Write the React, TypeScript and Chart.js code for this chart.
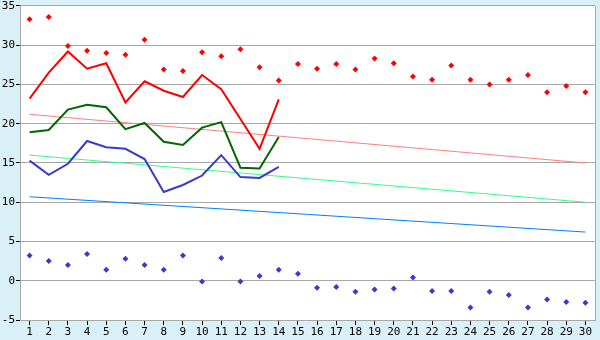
import React, { useEffect, useRef } from "react";
import { Chart, registerables } from "chart.js";

Chart.register(...registerables);

const days = Array.from({ length: 30 }, (_, i) => String(i + 1));

const redLine = [23.2, 26.5, 29.2, 27.0, 27.7, 22.7, 25.4, 24.2, 23.4, 26.2, 24.4, 20.6, 16.8, 23.1];
const greenLine = [18.9, 19.2, 21.8, 22.4, 22.1, 19.3, 20.1, 17.7, 17.3, 19.5, 20.2, 14.4, 14.3, 18.3];
const blueLine = [15.3, 13.5, 14.9, 17.8, 17.0, 16.8, 15.5, 11.3, 12.2, 13.4, 16.0, 13.2, 13.1, 14.5];

const maxPoints = [33.3, 33.6, 29.9, 29.3, 29.0, 28.8, 30.7, 26.9, 26.7, 29.1, 28.6, 29.5, 27.2, 25.5, 27.6,
  27.0, 27.6, 26.9, 28.3, 27.7, 26.0, 25.6, 27.4, 25.6, 25.0, 25.6, 26.2, 24.0, 24.8, 24.0];
const minPoints = [3.2, 2.5, 2.0, 3.4, 1.4, 2.8, 2.0, 1.4, 3.2, -0.1, 2.9, -0.1, 0.6, 1.4, 0.9,
  -0.9, -0.8, -1.4, -1.1, -1.0, 0.4, -1.3, -1.3, -3.4, -1.4, -1.8, -3.4, -2.4, -2.7, -2.8];

const redTrendEnds = [21.2, 15.0];
const greenTrendEnds = [16.0, 10.0];
const blueTrendEnds = [10.7, 6.2];

const yTicks = { min: -5, max: 35, step: 5 };

function trend(ends: number[]) {
  const arr: (number | null)[] = days.map(() => null);
  arr[0] = ends[0];
  arr[days.length - 1] = ends[1];
  return arr;
}

const bgPlugin = {
  id: "bg",
  beforeDraw(chart: any) {
    const { ctx, chartArea } = chart;
    ctx.save();
    ctx.fillStyle = "#d9f0f7";
    ctx.fillRect(0, 0, chart.width, chart.height);
    ctx.fillStyle = "#ffffff";
    ctx.fillRect(chartArea.left, chartArea.top, chartArea.right - chartArea.left, chartArea.bottom - chartArea.top);
    ctx.restore();
  },
  afterDraw(chart: any) {
    const { ctx, chartArea } = chart;
    ctx.save();
    ctx.strokeStyle = "#a8a8a8";
    ctx.lineWidth = 1;
    ctx.beginPath();
    ctx.moveTo(Math.round(chartArea.right) + 0.5, chartArea.top);
    ctx.lineTo(Math.round(chartArea.right) + 0.5, chartArea.bottom);
    ctx.stroke();
    ctx.restore();
  },
};

export default function App() {
  const ref = useRef<HTMLCanvasElement>(null);
  useEffect(() => {
    document.body.style.margin = "0";
    Chart.defaults.font.family = "'DejaVu Sans Mono', monospace";
    Chart.defaults.font.size = 11;
    Chart.defaults.color = "#000";
    const mk = (color: string, width: number, data: any, order: number, extra: any = {}) => ({
      data,
      borderColor: color,
      backgroundColor: color,
      borderWidth: width,
      pointRadius: 0,
      tension: 0,
      fill: false,
      order,
      ...extra,
    });
    const chart = new Chart(ref.current!, {
      type: "line",
      data: {
        labels: days,
        datasets: [
          mk("#ff0000", 2, redLine, 1),
          mk("#006600", 2, greenLine, 1),
          mk("#3a3acc", 2, blueLine, 1),
          mk("#ff0000", 0, maxPoints, 0, { showLine: false, pointRadius: 3, pointStyle: "rectRot", pointBorderWidth: 0 }),
          mk("#3a3acc", 0, minPoints, 0, { showLine: false, pointRadius: 3, pointStyle: "rectRot", pointBorderWidth: 0 }),
          mk("#ff8080", 1, trend(redTrendEnds), 2, { spanGaps: true }),
          mk("#33ff88", 1, trend(greenTrendEnds), 2, { spanGaps: true }),
          mk("#0080ff", 1, trend(blueTrendEnds), 2, { spanGaps: true }),
        ],
      },
      options: {
        animation: false,
        responsive: false,
        events: [],
        layout: { padding: { top: 5, right: 5, left: 0, bottom: 0 } },
        plugins: { legend: { display: false }, tooltip: { enabled: false } },
        scales: {
          x: {
            offset: true,
            grid: { drawOnChartArea: false, drawTicks: true, tickLength: 5, tickColor: "#000", offset: false },
            border: { color: "#a8a8a8" },
            ticks: { maxRotation: 0, autoSkip: false, padding: 1 },
            afterFit(scale: any) { scale.height = 20; },
          },
          y: {
            min: yTicks.min,
            max: yTicks.max,
            ticks: { stepSize: yTicks.step, padding: 1, font: { lineHeight: 0.9 } },
            grid: { color: "#a8a8a8", tickColor: "#000", tickLength: 4 },
            border: { color: "#a8a8a8" },
            afterFit(scale: any) { scale.width = 20; },
          },
        },
      },
      plugins: [bgPlugin],
    });
    return () => chart.destroy();
  }, []);
  return <canvas ref={ref} width={600} height={340} style={{ display: "block" }} />;
}
